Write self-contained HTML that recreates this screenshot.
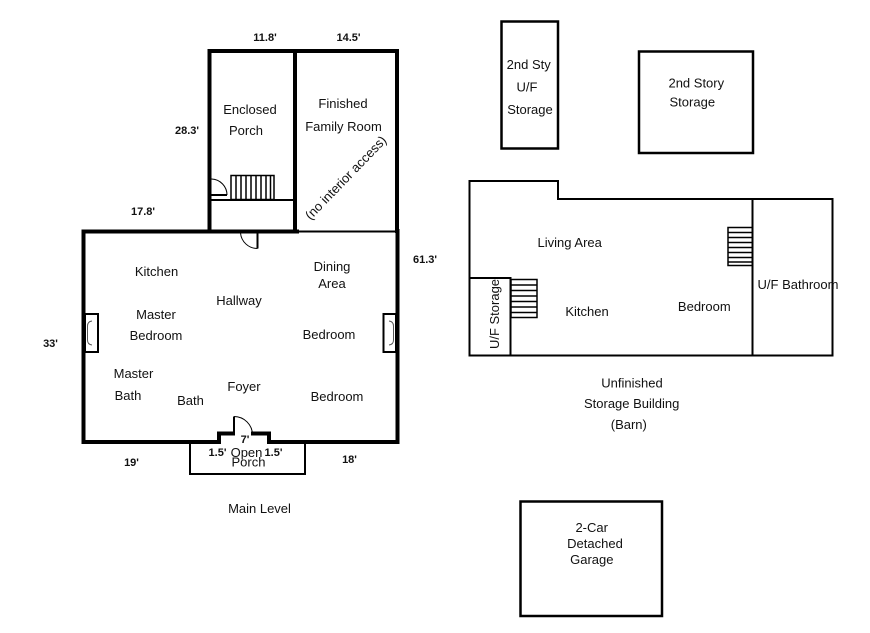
<!DOCTYPE html>
<html>
<head>
<meta charset="utf-8">
<style>
  html,body{margin:0;padding:0;background:#fff;}
  svg{display:block;}
  text{font-family:"Liberation Sans",Arial,sans-serif;fill:#111;}
  .t{font-size:13px;text-anchor:middle;}
  .d{font-size:11px;font-weight:bold;text-anchor:middle;}
</style>
</head>
<body>
<svg width="870" height="633" viewBox="0 0 870 633" xmlns="http://www.w3.org/2000/svg">
  <rect width="870" height="633" fill="#fff"/>

  <!-- ===== Main level ===== -->
  <g fill="none" stroke="#000" stroke-linecap="square">
    <!-- enclosed porch / family room thick walls -->
    <path d="M209.5,231 L209.5,51 L397,51 L397,231" stroke-width="4"/>
    <path d="M295,51 L295,231" stroke-width="4"/>
    <!-- main thick outline -->
    <path d="M297,231.5 L83.5,231.5 L83.5,442 L219,442 L219,433.5 L233,433.5" stroke-width="4"/>
    <path d="M253,433.5 L269,433.5 L269,442 L397.5,442 L397.5,231" stroke-width="4"/>
    <!-- thin line under family room -->
    <path d="M297,231.5 L396,231.5" stroke-width="2" stroke-linecap="butt"/>
    <!-- enclosed porch inner line -->
    <path d="M211,200 L293,200" stroke-width="2" stroke-linecap="butt"/>
  </g>

  <!-- enclosed porch stair -->
  <g fill="none" stroke="#000" stroke-width="1.5">
    <rect x="231" y="175.5" width="43" height="24"/>
    <path d="M236,176 V199 M241,176 V199 M246,176 V199 M251,176 V199 M256,176 V199 M261,176 V199 M266,176 V199 M270.5,176 V199"/>
  </g>

  <!-- doors -->
  <g fill="none" stroke="#000">
    <!-- porch door -->
    <path d="M211.5,195 L227,195" stroke-width="2"/>
    <path d="M211.5,179 A16,16 0 0 1 227,195" stroke-width="1"/>
    <!-- door below porch -->
    <path d="M257.5,233 L257.5,248.5" stroke-width="2"/>
    <path d="M240.5,233 A17,17 0 0 0 257.5,248.5" stroke-width="1"/>
    <!-- front door -->
    <path d="M234,435 L234,416.5" stroke-width="2"/>
    <path d="M234,416.5 A18.5,18.5 0 0 1 252.5,435" stroke-width="1"/>
  </g>

  <!-- closets -->
  <g fill="none" stroke="#000">
    <rect x="85" y="314" width="13" height="38" stroke-width="2"/>
    <path d="M92,321 Q87.5,321.5 87.5,326 L87.5,340 Q87.5,344.5 92,345" stroke-width="1" stroke="#555"/>
    <rect x="383.5" y="314" width="12.5" height="38" stroke-width="2"/>
    <path d="M389,321 Q393.5,321.5 393.5,326 L393.5,340 Q393.5,344.5 389,345" stroke-width="1" stroke="#555"/>
  </g>

  <!-- open porch -->
  <path d="M190,443 L190,474 L305,474 L305,443" fill="none" stroke="#000" stroke-width="2"/>

  <!-- main level labels -->
  <text class="d" x="265" y="41">11.8'</text>
  <text class="d" x="348.5" y="41">14.5'</text>
  <text class="d" x="187" y="134">28.3'</text>
  <text class="d" x="143" y="215">17.8'</text>
  <text class="d" x="425" y="263">61.3'</text>
  <text class="d" x="50.5" y="347">33'</text>
  <text class="d" x="131.5" y="466">19'</text>
  <text class="d" x="349.5" y="463">18'</text>
  <text class="d" x="245" y="443">7'</text>
  <text class="d" x="217.5" y="456">1.5'</text>
  <text class="d" x="273.5" y="456">1.5'</text>

  <text class="t" x="250" y="114">Enclosed</text>
  <text class="t" x="246" y="135">Porch</text>
  <text class="t" x="343" y="108">Finished</text>
  <text class="t" x="343.5" y="131">Family Room</text>
  <text class="t" transform="translate(346,178) rotate(-46)" x="0" y="4">(no interior access)</text>

  <text class="t" x="156.5" y="276">Kitchen</text>
  <text class="t" x="239" y="305">Hallway</text>
  <text class="t" x="156" y="319">Master</text>
  <text class="t" x="156" y="340">Bedroom</text>
  <text class="t" x="332" y="271">Dining</text>
  <text class="t" x="332" y="288">Area</text>
  <text class="t" x="329" y="339">Bedroom</text>
  <text class="t" x="133.5" y="378">Master</text>
  <text class="t" x="128" y="400">Bath</text>
  <text class="t" x="190.5" y="405">Bath</text>
  <text class="t" x="244" y="391">Foyer</text>
  <text class="t" x="337" y="401">Bedroom</text>
  <text class="t" x="246.5" y="457">Open</text>
  <text class="t" x="248.5" y="466.5">Porch</text>
  <text class="t" x="259.5" y="513">Main Level</text>

  <!-- ===== 2nd story storage boxes ===== -->
  <g fill="none" stroke="#000" stroke-width="2.5">
    <rect x="501.5" y="21.5" width="56.5" height="127"/>
    <rect x="639" y="51.5" width="114" height="101.5"/>
  </g>
  <text class="t" x="528.7" y="69">2nd Sty</text>
  <text class="t" x="527" y="91.5">U/F</text>
  <text class="t" x="530" y="114">Storage</text>
  <text class="t" x="696.3" y="87.5">2nd Story</text>
  <text class="t" x="692.3" y="106.5">Storage</text>

  <!-- ===== Barn ===== -->
  <g fill="none" stroke="#000" stroke-width="2">
    <path d="M469.5,355.5 L469.5,181 L558,181 L558,199 L832.5,199 L832.5,355.5 Z"/>
    <path d="M752.5,199 L752.5,355.5"/>
    <path d="M469.5,278 L510.5,278 L510.5,355.5"/>
  </g>
  <g fill="none" stroke="#000" stroke-width="1.5">
    <rect x="511" y="279.5" width="26" height="38"/>
    <path d="M511,285 H537 M511,290.5 H537 M511,296 H537 M511,301.5 H537 M511,307 H537 M511,312.5 H537"/>
    <rect x="728" y="227.5" width="24.5" height="38"/>
    <path d="M728,232.5 H752 M728,237.5 H752 M728,242.5 H752 M728,247.5 H752 M728,252.5 H752 M728,257.5 H752 M728,262 H752"/>
  </g>
  <text class="t" x="569.7" y="247">Living Area</text>
  <text class="t" x="587" y="316">Kitchen</text>
  <text class="t" x="704.3" y="311">Bedroom</text>
  <text class="t" x="798" y="289">U/F Bathroom</text>
  <text class="t" transform="translate(494,314) rotate(-90)" x="0" y="5">U/F Storage</text>

  <text class="t" x="632" y="387.5">Unfinished</text>
  <text class="t" x="631.7" y="408">Storage Building</text>
  <text class="t" x="628.8" y="429">(Barn)</text>

  <!-- ===== Garage ===== -->
  <rect x="520.5" y="501.5" width="141.5" height="114.5" fill="none" stroke="#000" stroke-width="2.5"/>
  <text class="t" x="591.7" y="532">2-Car</text>
  <text class="t" x="595" y="548">Detached</text>
  <text class="t" x="591.8" y="564">Garage</text>
</svg>
</body>
</html>
